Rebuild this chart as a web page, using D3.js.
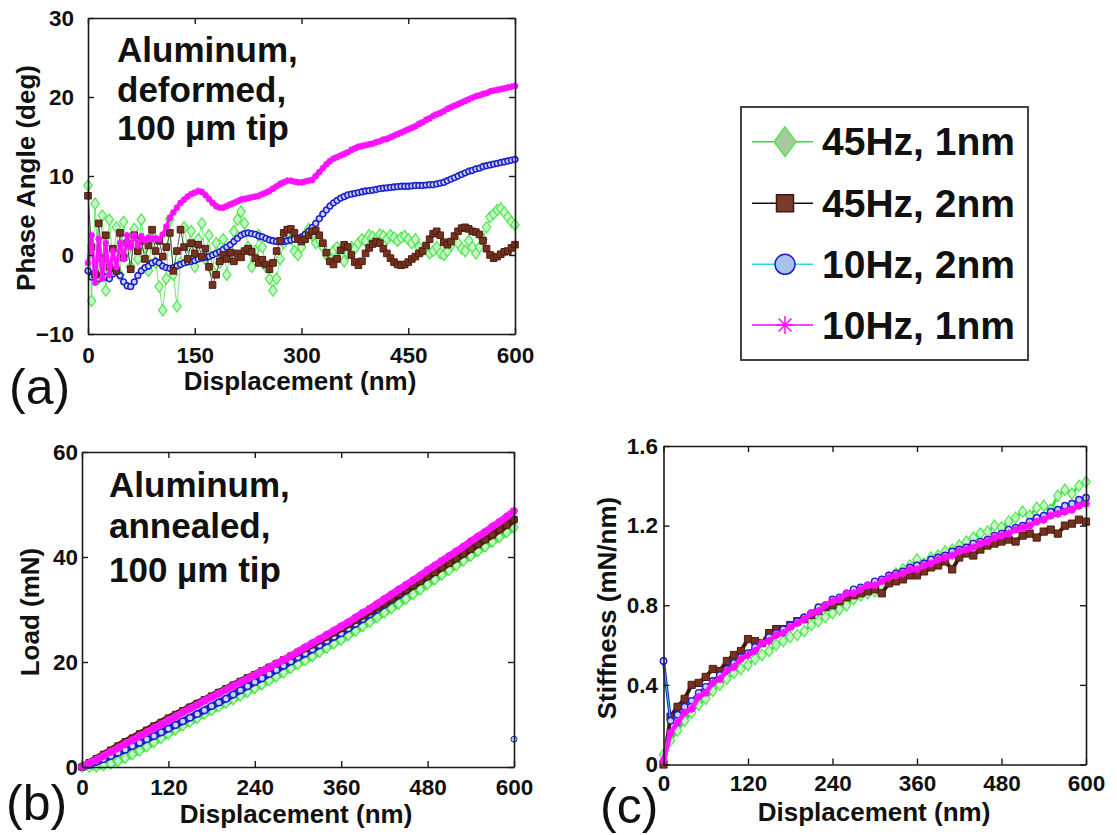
<!DOCTYPE html>
<html><head><meta charset="utf-8">
<script src="https://cdn.jsdelivr.net/npm/d3@7"></script>
<style>
body{margin:0;background:#fff;}
svg text{font-family:"Liberation Sans",Arial,Helvetica,sans-serif;}
</style></head><body>
<svg id="chart" width="1117" height="835"></svg>
<script>
// ---------------- DATA ----------------
const seriesNames = ["45Hz, 1nm", "45Hz, 2nm", "10Hz, 2nm", "10Hz, 1nm"];

// Panel (a): phase angle (deg) vs displacement (nm), sampled every 5 nm
const xA = d3.range(0, 601, 5);
const phase45Hz1nm = [
 8.8,-5.8,6.5,-3.0,5.0,-4.5,4.5,-1.0,3.5,-2.5,
 4.2,0.5,-1.5,3.3,-0.5,4.5,1.0,-2.0,2.5,-1.0,
 -4.0,-7.0,-3.0,4.5,-2.5,-6.5,-1.0,3.5,1.0,3.0,
 -1.5,2.0,4.0,-0.5,2.5,-2.0,1.5,-1.0,2.0,-2.5,
 0.5,3.0,4.5,5.5,4.0,1.0,-1.5,0.5,2.5,1.0,
 -1.5,-3.0,-4.5,-3.0,-0.5,1.5,2.5,2.0,0.5,0.0,
 1.0,2.5,3.3,2.5,1.5,2.0,1.0,0.0,-0.5,0.5,
 1.0,0.0,-0.8,0.2,1.0,0.8,1.5,2.0,1.8,2.5,
 2.3,2.0,2.6,2.4,2.0,2.5,2.2,1.8,2.2,2.4,
 2.0,1.5,2.0,1.0,0.5,0.8,0.2,0.5,1.0,0.2,
 0.0,0.5,1.2,2.0,1.5,0.8,0.5,1.8,1.0,0.2,
 1.0,2.0,3.5,4.8,5.2,5.7,5.9,5.4,4.8,4.2,
 3.8];
const phase45Hz2nm = [
 7.5,1.0,-2.5,4.0,-0.5,2.5,-1.5,0.8,-2.0,2.8,
 -0.3,1.5,-1.8,2.5,0.5,1.8,-0.5,1.2,3.2,0.5,
 1.8,-0.2,1.0,2.8,-2.0,0.5,3.2,1.0,-0.5,1.5,
 0.2,1.3,-0.2,0.8,-1.5,-3.8,-2.5,-0.8,0.0,-0.5,
 0.3,-0.8,0.2,-0.3,0.5,0.8,0.4,-0.4,-1.0,-0.6,
 -1.2,-1.8,-1.0,0.5,1.8,2.8,3.2,3.3,2.8,2.0,
 1.7,2.0,2.5,3.0,3.1,2.5,1.5,0.3,-0.8,-1.2,
 -0.5,0.6,1.3,1.0,0.0,-0.9,-1.3,-0.8,0.2,0.9,
 1.4,1.7,1.5,0.8,0.2,-0.4,-0.9,-1.2,-1.3,-1.2,
 -0.9,-0.5,-0.2,0.2,0.5,1.2,2.0,2.7,3.0,2.5,
 1.6,1.3,1.7,2.4,3.0,3.4,3.5,3.3,3.0,2.9,
 2.6,1.8,0.8,0.0,-0.4,-0.2,0.1,0.4,0.5,0.9,
 1.3];
const phase10Hz2nm = [
 -2.0,-2.8,-2.2,-3.0,-2.5,-2.8,-3.0,-2.4,-2.0,-2.6,
 -3.4,-3.9,-4.0,-3.4,-2.6,-2.0,-1.6,-1.4,-1.0,-0.8,
 -1.0,-1.4,-1.6,-1.7,-1.6,-1.4,-1.2,-1.0,-0.9,-0.8,
 -0.7,-0.5,-0.4,-0.3,-0.2,0.0,0.2,0.4,0.7,1.0,
 1.3,1.7,2.1,2.5,2.7,2.8,2.7,2.6,2.4,2.3,
 2.1,1.9,1.8,1.7,1.7,1.7,1.8,1.9,2.0,2.1,
 2.3,2.6,3.0,3.5,4.0,4.6,5.2,5.7,6.2,6.6,
 6.9,7.2,7.4,7.6,7.7,7.8,7.9,8.0,8.1,8.15,
 8.2,8.3,8.4,8.45,8.5,8.55,8.6,8.65,8.7,8.7,
 8.7,8.75,8.8,8.8,8.8,8.85,8.9,8.9,9.0,9.1,
 9.2,9.4,9.6,9.8,10.0,10.2,10.4,10.6,10.7,10.9,
 11.0,11.2,11.3,11.4,11.5,11.6,11.7,11.8,11.9,12.0,
 12.1];
const phase10Hz1nm = [
 -1.0,2.5,-3.5,2.0,-3.0,1.5,-2.5,0.5,-1.5,1.5,
 -0.5,2.5,1.0,2.5,1.2,2.4,1.8,2.2,2.0,2.1,
 2.0,2.6,3.6,4.7,5.4,6.0,6.6,7.0,7.4,7.7,
 7.9,8.1,8.0,7.6,7.1,6.6,6.2,6.0,6.0,6.2,
 6.4,6.6,6.8,7.0,7.1,7.2,7.3,7.4,7.5,7.7,
 7.9,8.1,8.4,8.7,9.0,9.2,9.4,9.4,9.3,9.2,
 9.2,9.3,9.4,9.5,10.0,10.5,11.0,11.5,11.9,12.2,
 12.4,12.6,12.8,13.0,13.3,13.5,13.7,13.8,13.9,14.0,
 14.1,14.3,14.4,14.6,14.7,14.9,15.1,15.3,15.5,15.7,
 15.9,16.1,16.3,16.6,16.8,17.1,17.3,17.6,17.8,18.0,
 18.2,18.5,18.7,18.9,19.1,19.3,19.5,19.7,19.9,20.1,
 20.2,20.4,20.5,20.7,20.8,20.9,21.0,21.1,21.2,21.3,
 21.4];

// Panel (b): load (mN) vs displacement (nm), every 10 nm
const xB = d3.range(0, 601, 10);
const load45Hz1nm = [
 0,0,0.1,0.3,0.6,1.1,1.7,2.4,3.1,3.9,
 4.7,5.5,6.3,7.1,7.9,8.6,9.3,10.1,10.8,11.5,
 12.2,12.9,13.6,14.3,15.0,15.7,16.5,17.2,18.0,18.8,
 19.6,20.3,21.1,21.9,22.7,23.5,24.2,25.1,25.9,26.8,
 27.6,28.5,29.4,30.2,31.1,32.0,32.9,33.8,34.8,35.7,
 36.6,37.5,38.4,39.3,40.2,41.1,42.0,42.9,43.8,44.7,
 45.6];
const load45Hz2nm = [
 0,0.8,1.6,2.4,3.2,4.0,4.8,5.5,6.3,7.0,
 7.8,8.5,9.3,10.0,10.7,11.4,12.1,12.8,13.5,14.2,
 14.9,15.6,16.3,17.0,17.6,18.3,19.0,19.7,20.4,21.1,
 21.8,22.6,23.3,24.1,24.8,25.6,26.4,27.2,28.0,28.8,
 29.6,30.4,31.2,32.0,32.9,33.7,34.6,35.4,36.3,37.1,
 38.0,38.8,39.7,40.6,41.5,42.4,43.3,44.2,45.2,46.1,
 47.1];
const load10Hz2nm = [
 0,0.4,1.0,1.5,2.1,2.7,3.3,4.0,4.6,5.3,
 5.9,6.6,7.3,8.0,8.7,9.4,10.1,10.8,11.6,12.3,
 13.0,13.8,14.6,15.4,16.2,16.9,17.7,18.5,19.3,20.1,
 20.9,21.6,22.4,23.2,24.0,24.8,25.5,26.4,27.3,28.2,
 29.1,30.0,30.9,31.8,32.7,33.6,34.5,35.4,36.3,37.2,
 38.1,39.0,39.9,40.8,41.7,42.6,43.6,44.5,45.4,46.3,
 47.2];
const load10Hz1nm = [
 0,0.7,1.4,2.1,2.9,3.6,4.4,5.1,5.9,6.6,
 7.4,8.1,8.9,9.6,10.4,11.1,11.8,12.6,13.3,14.0,
 14.7,15.4,16.1,16.8,17.5,18.2,18.9,19.7,20.4,21.2,
 22.0,22.8,23.6,24.4,25.2,26.0,26.8,27.6,28.5,29.4,
 30.2,31.1,32.0,32.9,33.8,34.7,35.6,36.5,37.5,38.4,
 39.3,40.2,41.1,42.0,43.0,43.9,44.8,45.8,46.7,47.7,
 48.8];
const loadOutlierX = [600];
const loadOutlierY = [5.3];

// Panel (c): stiffness (mN/nm) vs displacement (nm), every 10 nm
const xC = d3.range(0, 601, 10);
const stiff45Hz1nm = [
 0.05,0.12,0.17,0.22,0.26,0.30,0.33,0.37,0.40,0.43,
 0.46,0.48,0.50,0.53,0.55,0.57,0.60,0.62,0.64,0.65,
 0.67,0.70,0.72,0.74,0.76,0.78,0.80,0.83,0.85,0.86,
 0.87,0.90,0.94,0.96,0.98,1.00,1.03,1.01,1.04,1.05,
 1.07,1.08,1.10,1.12,1.14,1.16,1.17,1.20,1.19,1.22,
 1.24,1.27,1.25,1.29,1.30,1.28,1.35,1.38,1.36,1.40,
 1.42];
const stiff45Hz2nm = [
 0.0,0.24,0.29,0.33,0.40,0.41,0.44,0.48,0.47,0.52,
 0.55,0.57,0.63,0.62,0.61,0.66,0.68,0.68,0.70,0.72,
 0.73,0.75,0.77,0.79,0.80,0.82,0.84,0.85,0.86,0.87,
 0.88,0.86,0.91,0.92,0.93,0.95,0.95,0.97,0.99,1.00,
 1.02,0.98,1.04,1.06,1.05,1.08,1.10,1.11,1.12,1.13,
 1.12,1.15,1.16,1.14,1.17,1.18,1.16,1.20,1.21,1.23,
 1.22];
const stiff10Hz2nm = [
 0.52,0.22,0.25,0.29,0.32,0.36,0.39,0.42,0.45,0.48,
 0.51,0.54,0.56,0.59,0.61,0.64,0.66,0.68,0.70,0.72,
 0.74,0.76,0.79,0.80,0.83,0.84,0.86,0.88,0.89,0.90,
 0.92,0.93,0.95,0.96,0.97,0.99,1.00,1.01,1.03,1.04,
 1.05,1.07,1.08,1.09,1.11,1.12,1.13,1.15,1.16,1.18,
 1.19,1.20,1.22,1.24,1.25,1.27,1.28,1.30,1.31,1.33,
 1.34];
const stiff10Hz1nm = [
 0.02,0.16,0.21,0.26,0.28,0.34,0.36,0.41,0.43,0.47,
 0.49,0.53,0.55,0.57,0.61,0.62,0.65,0.66,0.69,0.71,
 0.73,0.76,0.77,0.80,0.82,0.83,0.86,0.86,0.88,0.90,
 0.90,0.92,0.94,0.95,0.96,0.98,0.98,1.00,1.01,1.03,
 1.04,1.05,1.07,1.08,1.09,1.11,1.12,1.14,1.15,1.16,
 1.18,1.19,1.20,1.22,1.23,1.25,1.26,1.27,1.28,1.30,
 1.31];

// Ticks
const xTicksA = [0, 150, 300, 450, 600];
const yTicksA = [-10, 0, 10, 20, 30];
const xTicksBC = [0, 120, 240, 360, 480, 600];
const yTicksB = [0, 20, 40, 60];
const yTicksC = [0, 0.4, 0.8, 1.2, 1.6];
const yTickLabelsC = ["0", "0.4", "0.8", "1.2", "1.6"];

// ---------------- STYLES ----------------
const sty = [
  {line:"#33dd33", marker:"diamond", stroke:"#4fe84f", fill:"#c9f3c9", band:"#3fe23f", legFill:"#a9c9a3"},
  {line:"#111111", marker:"square",  stroke:"#4e1c12", fill:"#76321f", band:"#4a1c12", legFill:"#7a3a2c"},
  {line:"#22dddd", marker:"circle",  stroke:"#1d1dcc", fill:"#c3d4f6", band:"#2020c8", legFill:"#a8c2ee"},
  {line:"#ff00ff", marker:"star",    stroke:"#ff10ff", fill:"none",    band:"#ff22ff", legFill:"none"}
];

function markerPath(type, r){
  if(type==="diamond") return `M0,${-r*1.35}L${r},0L0,${r*1.35}L${-r},0Z`;
  if(type==="square") return `M${-r},${-r}h${2*r}v${2*r}h${-2*r}Z`;
  if(type==="circle") return `M${r},0A${r},${r} 0 1,1 ${-r},0A${r},${r} 0 1,1 ${r},0Z`;
  const k = r*0.72;
  return `M0,${-r}V${r}M${-r},0H${r}M${-k},${-k}L${k},${k}M${-k},${k}L${k},${-k}`;
}

const svg = d3.select("#chart");
svg.append("rect").attr("width",1117).attr("height",835).attr("fill","#fff");

function panel(o){
  const g = svg.append("g");
  const x = d3.scaleLinear().domain([0,600]).range([o.left,o.right]);
  const y = d3.scaleLinear().domain(o.ydom).range([o.bottom,o.top]);

  // series
  o.order.forEach(i=>{
    const s = sty[i], xs = o.xs, ys = o.series[i];
    const pts = xs.map((d,j)=>[d, ys[j]]);
    const line = d3.line().x(d=>x(d[0])).y(d=>y(d[1]));
    if(o.band && o.band[i]){
      g.append("path").attr("d", line(pts)).attr("fill","none")
        .attr("stroke", s.band).attr("stroke-width", o.band[i]).attr("stroke-linejoin","round");
    }
    g.append("path").attr("d", line(pts)).attr("fill","none")
      .attr("stroke", s.line).attr("stroke-width", o.lw ? o.lw[i] : 1);
    g.append("g").selectAll("path").data(pts).join("path")
      .attr("transform", d=>`translate(${x(d[0])},${y(d[1])})`)
      .attr("d", markerPath(s.marker, o.msize[i]))
      .attr("fill", s.fill).attr("stroke", s.stroke)
      .attr("stroke-width", o.mw ? o.mw[i] : 1);
  });
  if(o.extra) o.extra(g, x, y);

  // axes
  const ax = (sel)=>{
    sel.select(".domain").attr("stroke","#1a1a1a").attr("stroke-width",1.6);
    sel.selectAll(".tick line").attr("stroke","#1a1a1a").attr("stroke-width",1.4);
    sel.selectAll(".tick text").attr("font-size",22.5).attr("font-weight","bold").attr("fill","#111")
      .attr("font-family",'"Liberation Sans",Arial,sans-serif');
  };
  g.append("g").attr("transform",`translate(0,${o.bottom})`)
    .call(d3.axisBottom(x).tickValues(o.xticks).tickSize(-6).tickSizeOuter(0).tickPadding(o.xpad).tickFormat(d3.format("d"))).call(ax);
  g.append("g").attr("transform",`translate(0,${o.top})`)
    .call(d3.axisTop(x).tickValues(o.xticks).tickSize(-6).tickSizeOuter(0).tickFormat("")).call(ax);
  g.append("g").attr("transform",`translate(${o.left},0)`)
    .call(d3.axisLeft(y).tickValues(o.yticks).tickSize(-6).tickSizeOuter(0).tickPadding(o.ypad).tickFormat(o.yfmt)).call(ax);
  g.append("g").attr("transform",`translate(${o.right},0)`)
    .call(d3.axisRight(y).tickValues(o.yticks).tickSize(-6).tickSizeOuter(0).tickFormat("")).call(ax);

  // labels
  g.append("text").attr("x", o.xlab[0]).attr("y", o.xlab[1]).attr("text-anchor","middle")
    .attr("font-size",26).attr("font-weight","bold").attr("fill","#111").text("Displacement (nm)");
  g.append("text").attr("transform",`translate(${o.ylab[0]},${o.ylab[1]}) rotate(-90)`).attr("text-anchor","middle")
    .attr("font-size",26).attr("font-weight","bold").attr("fill","#111").text(o.ylabText);
  g.append("text").attr("x", o.plab[0]).attr("y", o.plab[1]).attr("font-size",50).attr("fill","#111").text(o.plabText);
  if(o.note){
    o.note.lines.forEach((t,k)=>{
      g.append("text").attr("x", o.note.x).attr("y", o.note.ys[k]).attr("font-size",35).attr("font-weight","bold")
        .attr("fill","#111").text(t);
    });
  }
}

// Panel (a)
panel({
  left:88, right:515, top:18, bottom:334, ydom:[-10,30],
  xticks:xTicksA, yticks:yTicksA, xpad:13, ypad:14, yfmt:d3.format("d"),
  xs:xA, series:[phase45Hz1nm, phase45Hz2nm, phase10Hz2nm, phase10Hz1nm],
  order:[0,2,1,3], msize:[4.2,3.3,2.9,3.4], mw:[1.2,1,1.6,1.8], lw:[0.7,0.7,1,1],
  band:[0,0,2.5,3.5],
  xlab:[300,390], ylab:[35,178], ylabText:"Phase Angle (deg)",
  plab:[9,404], plabText:"(a)",
  note:{x:117, ys:[62,102,140], lines:["Aluminum,","deformed,","100 µm tip"]}
});

// Panel (b)
panel({
  left:82, right:514, top:452, bottom:767, ydom:[0,60],
  xticks:xTicksBC, yticks:yTicksB, xpad:12, ypad:4, yfmt:d3.format("d"),
  xs:xB, series:[load45Hz1nm, load45Hz2nm, load10Hz2nm, load10Hz1nm],
  order:[0,2,1,3], msize:[4.0,3.2,3.2,4.0], mw:[1.2,1,1.4,2], band:[7,7,7,7],
  xlab:[296,823], ylab:[39,612], ylabText:"Load (mN)",
  plab:[6,820], plabText:"(b)",
  note:{x:109, ys:[497,538,582], lines:["Aluminum,","annealed,","100 µm tip"]},
  extra:(g,x,y)=>{
    g.append("g").selectAll("path").data(loadOutlierX.map((d,j)=>[d, loadOutlierY[j]])).join("path")
      .attr("transform", d=>`translate(${x(d[0])},${y(d[1])})`)
      .attr("d", markerPath("circle", 3)).attr("fill", sty[2].fill).attr("stroke", sty[2].stroke);
  }
});

// Panel (c)
panel({
  left:663.5, right:1086, top:446, bottom:764.5, ydom:[0,1.6],
  xticks:xTicksBC, yticks:yTicksC, xpad:10.5, ypad:5.5, yfmt:(d,i)=>yTickLabelsC[i],
  xs:xC, series:[stiff45Hz1nm, stiff45Hz2nm, stiff10Hz2nm, stiff10Hz1nm],
  order:[0,1,2,3], msize:[4.2,3.6,3.2,4.0], mw:[1.2,1,1.4,2], band:[3,4,3,5],
  xlab:[874,821], ylab:[616,608], ylabText:"Stiffness (mN/nm)",
  plab:[600,823], plabText:"(c)"
});

// Legend
const leg = svg.append("g");
leg.append("rect").attr("x",741).attr("y",107).attr("width",287).attr("height",253)
  .attr("fill","#fff").attr("stroke","#444").attr("stroke-width",2);
const legLineY = [141.7, 203.3, 264.3, 325];
const legSize = [11, 8.5, 10, 9];
seriesNames.forEach((nm,i)=>{
  const s = sty[i];
  leg.append("line").attr("x1",752).attr("x2",813).attr("y1",legLineY[i]).attr("y2",legLineY[i])
    .attr("stroke", s.line).attr("stroke-width",1.5);
  leg.append("path").attr("transform",`translate(785,${legLineY[i]})`)
    .attr("d", markerPath(s.marker, legSize[i]))
    .attr("fill", s.legFill).attr("stroke", s.marker==="star"? s.stroke : (i===1?"#3a1a12":s.stroke)).attr("stroke-width",1.5);
  leg.append("text").attr("x",822).attr("y",legLineY[i]+13.5).attr("font-size",39).attr("font-weight","bold")
    .attr("fill","#111").text(nm);
});
</script>
</body></html>
